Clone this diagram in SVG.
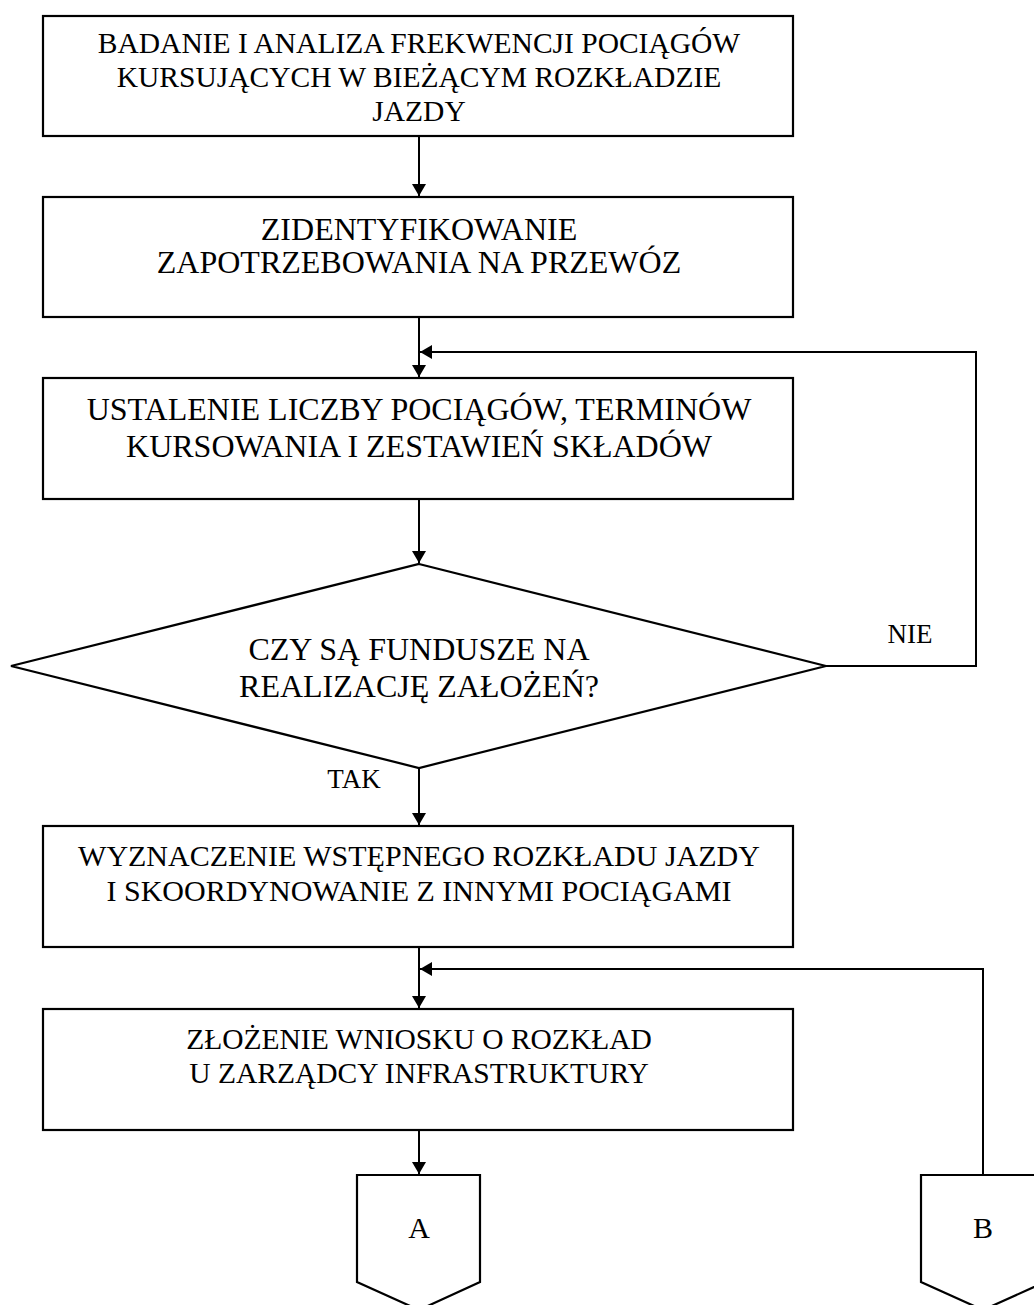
<svg xmlns="http://www.w3.org/2000/svg" width="1034" height="1305" viewBox="0 0 1034 1305">
<defs>
<marker id="ah" viewBox="0 0 12 14" refX="12" refY="7" markerWidth="12" markerHeight="14" markerUnits="userSpaceOnUse" orient="auto">
<path d="M0,0 L12,7 L0,14 Z" fill="#000"/>
</marker>
<style>
.box{fill:#fff;stroke:#000;stroke-width:2.2}
.ln{fill:none;stroke:#000;stroke-width:2}
.t{font-family:"Liberation Serif","Times New Roman",serif;fill:#000;text-anchor:middle}
.a{font-size:29.5px}
.b{font-size:32px}
.c{font-size:30px}
.s{font-size:27px}
</style>
</defs>
<rect width="1034" height="1305" fill="#fff"/>
<g id="connectors">
<line class="ln" x1="419" y1="136" x2="419" y2="196" marker-end="url(#ah)"/>
<line class="ln" x1="419" y1="317" x2="419" y2="377" marker-end="url(#ah)"/>
<polyline class="ln" points="826,666 976,666 976,352 420,352" marker-end="url(#ah)"/>
<line class="ln" x1="419" y1="499" x2="419" y2="563" marker-end="url(#ah)"/>
<line class="ln" x1="419" y1="768" x2="419" y2="825" marker-end="url(#ah)"/>
<line class="ln" x1="419" y1="947" x2="419" y2="1008" marker-end="url(#ah)"/>
<polyline class="ln" points="983,1175 983,969 420,969" marker-end="url(#ah)"/>
<line class="ln" x1="419" y1="1130" x2="419" y2="1174" marker-end="url(#ah)"/>
<text class="t s" x="910" y="643">NIE</text>
<text class="t s" x="354" y="788">TAK</text>
</g>
<g id="n1">
<rect class="box" x="43" y="16" width="750" height="120"/>
<text class="t a" x="419" y="53">BADANIE I ANALIZA FREKWENCJI POCIĄGÓW</text>
<text class="t a" x="419" y="87">KURSUJĄCYCH W BIEŻĄCYM ROZKŁADZIE</text>
<text class="t a" x="419" y="121">JAZDY</text>
</g>
<g id="n2">
<rect class="box" x="43" y="197" width="750" height="120"/>
<text class="t b" x="419" y="240">ZIDENTYFIKOWANIE</text>
<text class="t b" x="419" y="273">ZAPOTRZEBOWANIA NA PRZEWÓZ</text>
</g>
<g id="n3">
<rect class="box" x="43" y="378" width="750" height="121"/>
<text class="t b" x="419" y="420">USTALENIE LICZBY POCIĄGÓW, TERMINÓW</text>
<text class="t b" x="419" y="457">KURSOWANIA I ZESTAWIEŃ SKŁADÓW</text>
</g>
<g id="n4">
<polygon class="box" points="419,564 826,666 419,768 11,666"/>
<text class="t b" x="419" y="660">CZY SĄ FUNDUSZE NA</text>
<text class="t b" x="419" y="697">REALIZACJĘ ZAŁOŻEŃ?</text>
</g>
<g id="n5">
<rect class="box" x="43" y="826" width="750" height="121"/>
<text class="t c" x="419" y="866">WYZNACZENIE WSTĘPNEGO ROZKŁADU JAZDY</text>
<text class="t c" x="419" y="901">I SKOORDYNOWANIE Z INNYMI POCIĄGAMI</text>
</g>
<g id="n6">
<rect class="box" x="43" y="1009" width="750" height="121"/>
<text class="t a" x="419" y="1049">ZŁOŻENIE WNIOSKU O ROZKŁAD</text>
<text class="t a" x="419" y="1083">U ZARZĄDCY INFRASTRUKTURY</text>
</g>
<g id="nA">
<polygon class="box" points="357,1175 480,1175 480,1282 419,1310 357,1282"/>
<text class="t c" x="419" y="1238">A</text>
</g>
<g id="nB">
<polygon class="box" points="921,1175 1045,1175 1045,1282 983,1310 921,1282"/>
<text class="t c" x="983" y="1238">B</text>
</g>
</svg>
